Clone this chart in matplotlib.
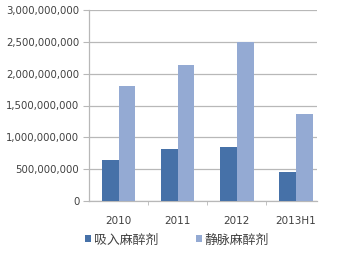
import matplotlib
matplotlib.use("Agg")
import matplotlib.pyplot as plt
import numpy as np
from matplotlib.ticker import FuncFormatter, FixedLocator

categories = ["2010", "2011", "2012", "2013H1"]
inhaled = [650e6, 810e6, 845e6, 455e6]
intravenous = [1800e6, 2140e6, 2500e6, 1365e6]
series_names = ["吸入麻醉剂", "静脉麻醉剂"]
yticks = [0, 500e6, 1000e6, 1500e6, 2000e6, 2500e6, 3000e6]

c_dark = "#4671a8"
c_light = "#94aad3"
grid_c = "#b8b8b8"
text_c = "#404040"

fig = plt.figure(figsize=(3.55, 2.54), dpi=100)
ax = fig.add_axes([89/355, 1-201/254, (317-89)/355, (201-10)/254])

x = np.arange(len(categories))
w = 0.283
b1 = ax.bar(x - w/2, inhaled, w, color=c_dark, zorder=3, label=series_names[0])
b2 = ax.bar(x + w/2, intravenous, w, color=c_light, zorder=3, label=series_names[1])

ax.set_ylim(0, 3e9)
ax.set_xlim(-0.5, 3.355)
ax.set_yticks(yticks)
ax.yaxis.set_major_formatter(FuncFormatter(lambda v, p: f"{int(v):,}"))
ax.yaxis.grid(True, color=grid_c, linewidth=0.9, zorder=0)

ax.set_xticks(x)
ax.set_xticklabels(categories)
ax.xaxis.set_minor_locator(FixedLocator([0.5, 1.5, 2.5]))
ax.tick_params(axis="x", which="major", length=0, pad=11, labelsize=7.5, labelcolor=text_c)
ax.tick_params(axis="x", which="minor", length=3, color=grid_c, direction="out")
ax.tick_params(axis="y", length=4, color=grid_c, labelsize=7.3, labelcolor=text_c, pad=3)

for s in ["top", "right"]:
    ax.spines[s].set_visible(False)
for s in ["left", "bottom"]:
    ax.spines[s].set_color(grid_c)
    ax.spines[s].set_linewidth(0.9)

leg = fig.legend(handles=[b1, b2], labels=series_names, loc="center left",
                 bbox_to_anchor=(85/355, 1-240/254), ncol=2, frameon=False,
                 prop={"family": ["Noto Sans CJK SC", "DejaVu Sans"], "size": 9.3},
                 handlelength=0.45, handleheight=0.45, handletextpad=0.25,
                 columnspacing=2.9, borderaxespad=0, borderpad=0)
for t in leg.get_texts():
    t.set_color(text_c)

fig.savefig("out.png", dpi=100)
